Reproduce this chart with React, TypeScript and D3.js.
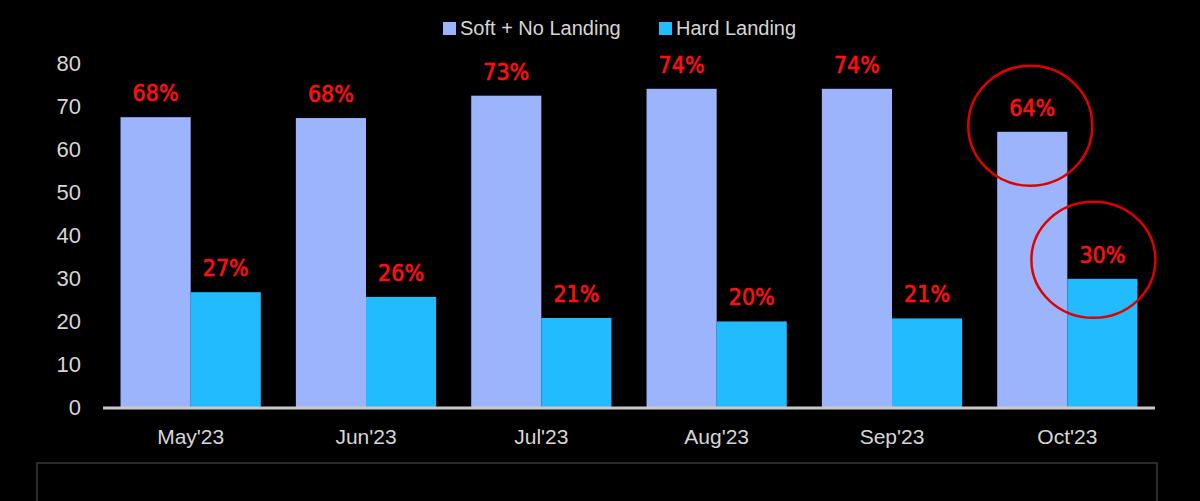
import React, { useRef, useEffect } from "react";
import * as d3 from "d3";

const months = ["May'23", "Jun'23", "Jul'23", "Aug'23", "Sep'23", "Oct'23"];
const softValues = [67.4, 67.2, 72.4, 74, 74, 64];
const hardValues = [26.7, 25.6, 20.7, 19.9, 20.6, 29.8];
const softLabels = ["68%", "68%", "73%", "74%", "74%", "64%"];
const hardLabels = ["27%", "26%", "21%", "20%", "21%", "30%"];
const yTicks = [0, 10, 20, 30, 40, 50, 60, 70, 80];
const seriesNames = ["Soft + No Landing", "Hard Landing"];

const SOFT = "#9bb4fc";
const HARD = "#22bcfe";
const RED = "#ff1010";

const App: React.FC = () => {
  const ref = useRef<SVGSVGElement>(null);

  useEffect(() => {
    if (!ref.current) return;
    const svg = d3.select(ref.current);
    svg.selectAll("*").remove();

    const width = 1200;
    const height = 501;
    const left = 103;
    const right = 1155;

    svg.append("rect").attr("width", width).attr("height", height).attr("fill", "#000");

    const x0 = d3.scaleBand().domain(months).range([left, right]).paddingInner(0.2).paddingOuter(0.1);
    const x1 = d3.scaleBand().domain(["soft", "hard"]).range([0, x0.bandwidth()]);
    const y = d3.scaleLinear().domain([0, 80]).range([407, 63]);

    // y tick labels (no axis line)
    svg
      .append("g")
      .selectAll("text")
      .data(yTicks)
      .join("text")
      .attr("x", 81)
      .attr("y", (d) => y(d))
      .attr("dy", "0.35em")
      .attr("text-anchor", "end")
      .attr("fill", "#d6d6d6")
      .attr("font-family", "'Liberation Sans', Arial, sans-serif")
      .attr("font-size", 22)
      .text((d) => d);

    const rows = months.map((m, i) => ({
      month: m,
      soft: softValues[i],
      hard: hardValues[i],
      softLabel: softLabels[i],
      hardLabel: hardLabels[i],
    }));

    const groups = svg
      .append("g")
      .selectAll("g")
      .data(rows)
      .join("g")
      .attr("transform", (d) => `translate(${x0(d.month)},0)`);

    groups
      .append("rect")
      .attr("x", x1("soft")!)
      .attr("width", x1.bandwidth())
      .attr("y", (d) => y(d.soft))
      .attr("height", (d) => y(0) - y(d.soft))
      .attr("fill", SOFT);
    groups
      .append("rect")
      .attr("x", x1("hard")!)
      .attr("width", x1.bandwidth())
      .attr("y", (d) => y(d.hard))
      .attr("height", (d) => y(0) - y(d.hard))
      .attr("fill", HARD);

    // value labels, narrow and a touch heavier
    const labelFont = "'DejaVu Sans Condensed', sans-serif";
    const addLabel = (key: "soft" | "hard", text: (d: any) => string, value: (d: any) => number) =>
      groups
        .append("text")
        .attr("x", x1(key)! + x1.bandwidth() / 2)
        .attr("y", (d) => y(value(d)) - 16)
        .attr("text-anchor", "middle")
        .attr("fill", RED)
        .attr("stroke", RED)
        .attr("stroke-width", 0.6)
        .attr("font-family", labelFont)
        .attr("font-size", 23)
        .text(text);
    addLabel("soft", (d) => d.softLabel, (d) => d.soft);
    addLabel("hard", (d) => d.hardLabel, (d) => d.hard);

    // baseline
    svg
      .append("line")
      .attr("x1", left)
      .attr("x2", right)
      .attr("y1", y(0) + 1)
      .attr("y2", y(0) + 1)
      .attr("stroke", "#c9c9c9")
      .attr("stroke-width", 3);

    // x labels
    svg
      .append("g")
      .selectAll("text")
      .data(months)
      .join("text")
      .attr("x", (d) => x0(d)! + x0.bandwidth() / 2)
      .attr("y", 444)
      .attr("text-anchor", "middle")
      .attr("fill", "#d6d6d6")
      .attr("font-family", "'Liberation Sans', Arial, sans-serif")
      .attr("font-size", 21)
      .text((d) => d);

    // highlight circles on last month
    const last = months.length - 1;
    const oct = x0(months[last])!;
    svg
      .append("ellipse")
      .attr("cx", oct + x1("soft")! + x1.bandwidth() / 2 - 2)
      .attr("cy", y(softValues[last]) - 6)
      .attr("rx", 62)
      .attr("ry", 60)
      .attr("fill", "none")
      .attr("stroke", "#e00000")
      .attr("stroke-width", 2.5);
    svg
      .append("ellipse")
      .attr("cx", oct + x1("hard")! + x1.bandwidth() / 2 - 9)
      .attr("cy", y(hardValues[last]) - 19)
      .attr("rx", 62)
      .attr("ry", 58)
      .attr("fill", "none")
      .attr("stroke", "#e00000")
      .attr("stroke-width", 2.5);

    // legend
    const legend = svg.append("g").attr("transform", "translate(443,22)");
    const legendX = [0, 216];
    seriesNames.forEach((name, i) => {
      const g = legend.append("g").attr("transform", `translate(${legendX[i]},0)`);
      g.append("rect").attr("width", 13).attr("height", 13).attr("fill", i === 0 ? SOFT : HARD);
      g.append("text")
        .attr("x", 17)
        .attr("y", 13)
        .attr("fill", "#d6d6d6")
        .attr("font-family", "'Liberation Sans', Arial, sans-serif")
        .attr("font-size", 20)
        .text(name);
    });

    // empty footer box
    svg
      .append("rect")
      .attr("x", 37)
      .attr("y", 463)
      .attr("width", 1120)
      .attr("height", 60)
      .attr("fill", "none")
      .attr("stroke", "#3a3a3a")
      .attr("stroke-width", 1.5);
  }, []);

  return (
    <svg
      ref={ref}
      width={1200}
      height={501}
      style={{ position: "absolute", top: 0, left: 0, display: "block" }}
    ></svg>
  );
};

export default App;
